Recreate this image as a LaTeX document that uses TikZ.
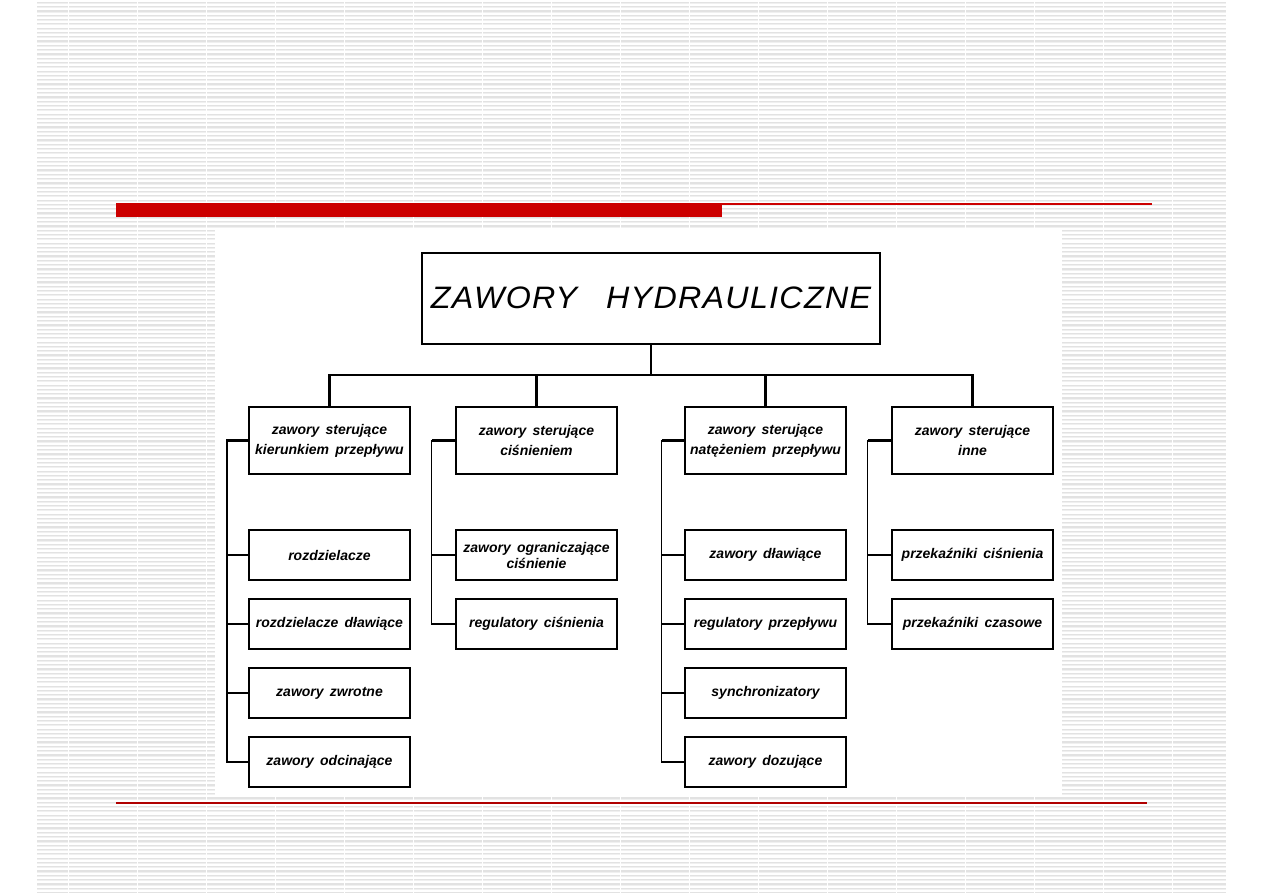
\documentclass[tikz,border=0pt]{standalone}
\usepackage{fontspec}
\usetikzlibrary{calc}
\newfontfamily\labfont{Liberation Sans}
\newfontfamily\titfont[LetterSpace=4]{Liberation Sans}
\definecolor{slidered}{HTML}{CC0000}
\definecolor{darkline}{HTML}{B00000}
\definecolor{stripeA}{HTML}{E2E2E2}
\definecolor{stripeB}{HTML}{F0F0F0}
\tikzset{
  lvl/.style={draw, line width=2.4pt, fill=white, minimum width=161pt, minimum height=67pt, inner sep=1pt, align=center,
     font=\labfont\bfseries\itshape\fontsize{14}{20}\selectfont},
  leaf/.style={draw, line width=2.4pt, fill=white, minimum width=161pt, minimum height=50pt, inner sep=1pt, align=center,
     font=\labfont\bfseries\itshape\fontsize{14}{16}\selectfont},
  titlebox/.style={draw, line width=2.4pt, fill=white, minimum width=458pt, minimum height=91pt, inner sep=0pt,
     font=\titfont\itshape\fontsize{31}{34}\selectfont},
  thick conn/.style={line width=2.4pt, line join=miter},
  thin conn/.style={line width=1.3pt, line cap=rect},
}
\begin{document}
\begin{tikzpicture}[x=1pt,y=-1pt]
\useasboundingbox (0,0) rectangle (1263,893);
\fill[white] (0,0) rectangle (1263,893);
% background stripes
\foreach \k in {0,...,207}{
  \fill[stripeA] (37,{1.8+4.3*\k}) rectangle (1226,{3.0+4.3*\k});
  \fill[stripeB] (37,{3.0+4.3*\k}) rectangle (1226,{4.0+4.3*\k});
}
\foreach \k in {0,...,16}{
  \fill[white] ({67.5+69*\k},0) rectangle ({68.5+69*\k},893);
}
% white panel
\fill[white] (215,228) rectangle (1062,795);
% red bars
\fill[slidered] (116,203) rectangle (722,217);
\fill[slidered] (722,203) rectangle (1152,205);
\fill[darkline] (116,802.3) rectangle (1147,804);

% title
\node[titlebox] (title) at (651,298.5) {\raisebox{2pt}{\scalebox{1.04}[1]{ZAWORY\hspace{28pt}HYDRAULICZNE}}};

% level 1
\node[lvl] (k1) at (329.5,440.5) {zawory\, sterujące\\kierunkiem\, przepływu};
\node[lvl] (k2) at (536.5,440.5) {zawory\, sterujące\\ciśnieniem};
\node[lvl] (k3) at (765.5,440.5) {zawory\, sterujące\\natężeniem\, przepływu};
\node[lvl] (k4) at (972.5,440.5) {zawory\, sterujące\\inne};

% leaves column 1
\node[leaf] (a1) at (329.5,555) {rozdzielacze};
\node[leaf] (a2) at (329.5,624) {rozdzielacze\, dławiące};
\node[leaf] (a3) at (329.5,693) {zawory\, zwrotne};
\node[leaf] (a4) at (329.5,762) {zawory\, odcinające};
% column 2
\node[leaf] (b1) at (536.5,555) {zawory\, ograniczające\\ciśnienie};
\node[leaf] (b2) at (536.5,624) {regulatory\, ciśnienia};
% column 3
\node[leaf] (c1) at (765.5,555) {zawory\, dławiące};
\node[leaf] (c2) at (765.5,624) {regulatory\, przepływu};
\node[leaf] (c3) at (765.5,693) {synchronizatory};
\node[leaf] (c4) at (765.5,762) {zawory\, dozujące};
% column 4
\node[leaf] (d1) at (972.5,555) {przekaźniki\, ciśnienia};
\node[leaf] (d2) at (972.5,624) {przekaźniki\, czasowe};

% bus
\coordinate (bus) at (651,375);
\draw[thick conn] (title.south) -- (bus);
\draw[thick conn] (k1.north) |- (bus) -| (k4.north);
\draw[thick conn] (k2.north) -- (k2.north |- bus);
\draw[thick conn] (k3.north) -- (k3.north |- bus);

% spines
\coordinate (s1) at ($(k1.west)+(-21,0)$);
\coordinate (s2) at ($(k2.west)+(-23,0)$);
\coordinate (s3) at ($(k3.west)+(-22,0)$);
\coordinate (s4) at ($(k4.west)+(-23,0)$);

\draw[thick conn] (k1.west) -- (s1) -- (s1 |- a4.west) -- (a4.west);
\foreach \n in {a1,a2,a3}{\draw[thick conn] (s1 |- \n.west) -- (\n.west);}

\draw[thin conn] (s2) -- (s2 |- b2.west);
\draw[thick conn] (k2.west) -- (s2);
\foreach \n in {b1,b2}{\draw[thick conn] (s2 |- \n.west) -- (\n.west);}

\draw[thin conn] (s3) -- (s3 |- c4.west);
\draw[thick conn] (k3.west) -- (s3);
\foreach \n in {c1,c2,c3,c4}{\draw[thick conn] (s3 |- \n.west) -- (\n.west);}

\draw[thin conn] (s4) -- (s4 |- d2.west);
\draw[thick conn] (k4.west) -- (s4);
\foreach \n in {d1,d2}{\draw[thick conn] (s4 |- \n.west) -- (\n.west);}
\end{tikzpicture}
\end{document}
